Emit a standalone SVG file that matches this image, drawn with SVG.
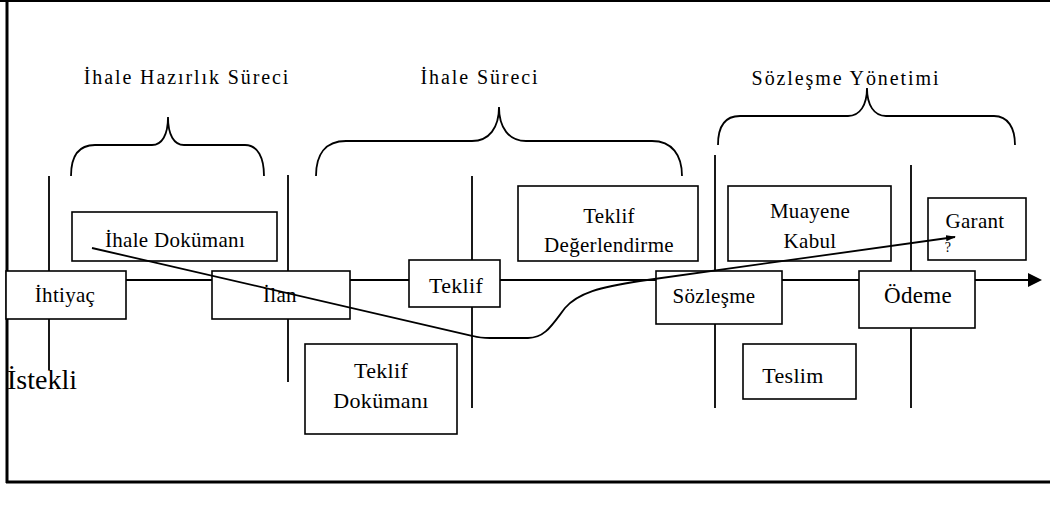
<svg xmlns="http://www.w3.org/2000/svg" width="1050" height="507" viewBox="0 0 1050 507">
<style>
.box{fill:#fff;stroke:#000;stroke-width:1.6}
.ln{fill:none;stroke:#000;stroke-width:1.8}
.br{fill:none;stroke:#000;stroke-width:1.8}
.t{font-family:"Liberation Serif","Times New Roman",serif;font-size:21px;fill:#000;text-anchor:middle;letter-spacing:0.3px}
.ttl{font-family:"Liberation Serif","Times New Roman",serif;font-size:20px;fill:#000;text-anchor:middle;letter-spacing:1.9px}
</style>
<defs>
<marker id="ah" markerWidth="14" markerHeight="14" refX="12" refY="7" orient="auto" markerUnits="userSpaceOnUse">
<path d="M0,0 L14,7 L0,14 Z" fill="#000"/>
</marker>
<marker id="ah2" markerWidth="10" markerHeight="8" refX="9" refY="4" orient="auto" markerUnits="userSpaceOnUse">
<path d="M0,1 L10,4 L0,7 Z" fill="#000"/>
</marker>
</defs>
<rect width="1050" height="507" fill="#fff"/>
<g id="frame">
<line x1="0" y1="1" x2="1050" y2="1" stroke="#000" stroke-width="2"/>
<line x1="7" y1="0" x2="7" y2="483" stroke="#000" stroke-width="3"/>
<line x1="6" y1="482" x2="1050" y2="482" stroke="#000" stroke-width="3"/>
</g>
<g id="titles">
<text class="ttl" x="187" y="84">İhale Hazırlık Süreci</text>
<text class="ttl" x="480" y="84">İhale Süreci</text>
<text class="ttl" x="846" y="85">Sözleşme Yönetimi</text>
</g>
<g id="braces">
<path class="br" d="M71,176 C71,158 77,145 95,145 L152,145 C162,145 168,135 168,117 C168,135 174,145 184,145 L245,145 C258,145 264,158 264,176"/>
<path class="br" d="M316,176 C316,155 325,141 346,141 L472,141 C489,141 499,128 499,107 C499,128 509,141 526,141 L652,141 C672,141 682,155 682,176"/>
<path class="br" d="M718,145 C718,128 724,116 740,116 L848,116 C860,116 867,105 867,88 C867,105 874,116 886,116 L994,116 C1008,116 1015,128 1015,145"/>
</g>
<g id="connectors">
<line class="ln" x1="7" y1="280" x2="1040" y2="280" marker-end="url(#ah)"/>
<line class="ln" x1="49" y1="176" x2="49" y2="370"/>
<line class="ln" x1="288" y1="175" x2="288" y2="382"/>
<line class="ln" x1="472" y1="176" x2="472" y2="408"/>
<line class="ln" x1="715" y1="155" x2="715" y2="408"/>
<line class="ln" x1="911" y1="165" x2="911" y2="408"/>
</g>
<g id="n-ihtiyac"><rect class="box" x="6" y="271" width="120" height="48"/><text class="t" x="65" y="302">İhtiyaç</text></g>
<g id="n-ilan"><rect class="box" x="212" y="271" width="138" height="48"/><text class="t" x="280" y="302">İlan</text></g>
<g id="n-teklif"><rect class="box" x="409" y="260" width="91" height="47"/><text class="t" x="456" y="293" style="font-size:22px">Teklif</text></g>
<g id="n-ihaledok"><rect class="box" x="72" y="212" width="205" height="49"/><text class="t" x="175" y="247">İhale Dokümanı</text></g>
<g id="n-teklifdok"><rect class="box" x="305" y="344" width="152" height="90"/><text class="t" x="381" y="378" style="font-size:22px">Teklif</text><text class="t" x="381" y="408" style="font-size:22px">Dokümanı</text></g>
<g id="n-degerlendirme"><rect class="box" x="518" y="186" width="180" height="75"/><text class="t" x="609" y="223">Teklif</text><text class="t" x="609" y="252">Değerlendirme</text></g>
<g id="n-muayene"><rect class="box" x="728" y="186" width="163" height="75"/><text class="t" x="810" y="218">Muayene</text><text class="t" x="810" y="248">Kabul</text></g>
<g id="n-garant"><rect class="box" x="928" y="198" width="98" height="62"/><text class="t" x="975" y="228">Garant</text><text class="t" x="948" y="252" style="font-size:14px">?</text></g>
<g id="n-sozlesme"><rect class="box" x="656" y="271" width="126" height="53"/><text class="t" x="714" y="303">Sözleşme</text></g>
<g id="n-odeme"><rect class="box" x="859" y="271" width="116" height="57"/><text class="t" x="918" y="303" style="font-size:23px">Ödeme</text></g>
<g id="n-teslim"><rect class="box" x="743" y="344" width="113" height="55"/><text class="t" x="793" y="383" style="font-size:22px">Teslim</text></g>
<g id="istekli"><text x="7" y="389" style="font-family:'Liberation Serif','Times New Roman',serif;font-size:28px;fill:#000">İstekli</text></g>
<g id="curve">
<path class="ln" d="M92,248 L473,336 C480,338 485,338 490,338 L528,338 C545,338 552,325 565,308 C578,293 600,287 640,281 L955,237" marker-end="url(#ah2)"/>
</g>
</svg>
